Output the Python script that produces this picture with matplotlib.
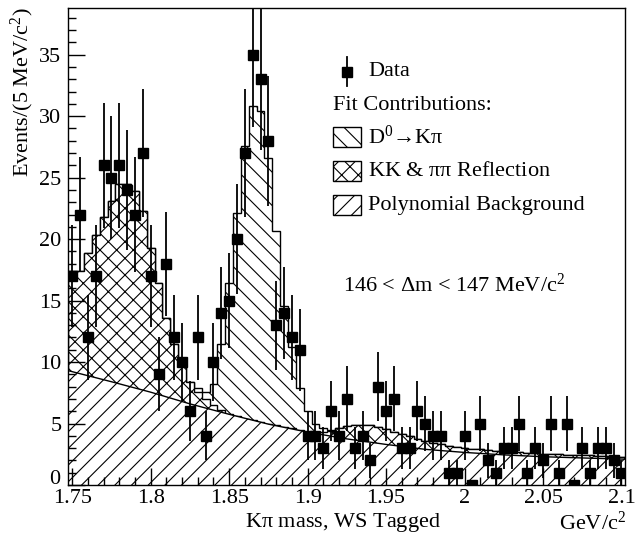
import matplotlib

matplotlib.use("Agg")
import matplotlib.pyplot as plt  # noqa: E402
import numpy as np  # noqa: E402
from matplotlib.patches import Rectangle  # noqa: E402
from matplotlib.lines import Line2D  # noqa: E402
from matplotlib.transforms import ScaledTranslation  # noqa: E402

# ---- data (71 bins of 5 MeV) ----
bin_lo = 1.7475
bin_width = 0.005
n_bins = 71

data_counts = [
    17, 22, 12, 17, 26, 25, 26, 24, 22, 27,
    17, 9, 18, 12, 10, 6, 12, 4, 10, 14,
    15, 20, 27, 35, 33, 28, 13, 14, 12, 11,
    4, 4, 3, 6, 4, 7, 3, 4, 2, 8,
    6, 7, 3, 3, 6, 5, 4, 4, 1, 1,
    4, 0, 5, 2, 1, 3, 3, 5, 1, 3,
    2, 5, 1, 5, 0, 3, 1, 3, 3, 2, 1,
]

# stacked fit: background + reflection (top of the cross-hatched part)
refl_top = [
    17.4, 17.4, 18.9, 20.3, 21.8, 23.1, 24.5, 24.5, 23.9, 22.3,
    19.3, 16.4, 13.6, 11.5, 9.9, 8.4, 7.6, 7.0, 6.5, 6.1,
    5.8, 5.6, 5.4, 5.25, 5.1, 4.95, 4.85, 4.7, 4.6, 4.5,
    4.35, 4.3, 4.3, 4.4, 4.6, 4.8, 4.9, 4.9, 4.85, 4.7,
    4.55, 4.35, 4.15, 3.95, 3.75, 3.6, 3.45, 3.3, 3.2, 3.1,
    3.0, 2.95, 2.9, 2.85, 2.8, 2.75, 2.7, 2.65, 2.6, 2.6,
    2.55, 2.5, 2.5, 2.45, 2.45, 2.4, 2.4, 2.35, 2.35, 2.3, 2.3,
]

# stacked fit: background + reflection + D0 -> K pi (full stack)
total_top = [
    17.4, 17.4, 18.9, 20.3, 21.8, 23.1, 24.5, 24.5, 23.9, 22.3,
    19.3, 16.4, 13.6, 11.5, 9.9, 8.4, 7.9, 7.6, 8.2, 11.5,
    16.4, 22.1, 27.6, 30.8, 30.4, 26.6, 20.7, 14.6, 11.2, 7.9,
    6.0, 5.0, 4.6, 4.5, 4.6, 4.8, 4.9, 4.9, 4.85, 4.7,
    4.55, 4.35, 4.15, 3.95, 3.75, 3.6, 3.45, 3.3, 3.2, 3.1,
    3.0, 2.95, 2.9, 2.85, 2.8, 2.75, 2.7, 2.65, 2.6, 2.6,
    2.55, 2.5, 2.5, 2.45, 2.45, 2.4, 2.4, 2.35, 2.35, 2.3, 2.3,
]

# smooth polynomial background, sampled along the curve
bg_mass = [1.7475, 1.775, 1.80, 1.825, 1.85, 1.875, 1.90, 1.925,
           1.95, 1.975, 2.00, 2.025, 2.05, 2.075, 2.1025]
bg_level = [9.3, 8.4, 7.55, 6.6, 5.75, 4.95, 4.3, 3.75,
            3.3, 2.9, 2.65, 2.45, 2.3, 2.2, 2.1]

x_ticks = [1.75, 1.80, 1.85, 1.90, 1.95, 2.00, 2.05, 2.10]
x_tick_labels = ["1.75", "1.8", "1.85", "1.9", "1.95", "2", "2.05", "2.1"]
y_ticks = [0, 5, 10, 15, 20, 25, 30, 35]

legend_labels = [
    r"D$^\mathrm{0}$→K$\pi$",
    r"KK & $\pi\pi$ Reflection",
    "Polynomial Background",
]

# ---- style ----
W, H = 636, 539
SERIF = "Liberation Serif"
plt.rcParams["font.family"] = [SERIF, "DejaVu Serif"]
plt.rcParams["mathtext.fontset"] = "custom"
plt.rcParams["mathtext.rm"] = SERIF
plt.rcParams["mathtext.it"] = SERIF
plt.rcParams["mathtext.cal"] = SERIF
plt.rcParams["hatch.linewidth"] = 0.8
plt.rcParams["hatch.color"] = "black"

FS = 16

fig = plt.figure(figsize=(W / 100, H / 100), dpi=100)
ax = fig.add_axes([68.3 / W, 1 - 485 / H, (625.4 - 68.3) / W, (485 - 8) / H])

edges = bin_lo + bin_width * np.arange(n_bins + 1)
centers = 0.5 * (edges[:-1] + edges[1:])
counts = np.asarray(data_counts, dtype=float)

# stacked contributions, drawn from the top of the stack downwards
ax.stairs(total_top, edges, fill=True, facecolor="white", edgecolor="black",
          hatch="\\\\", linewidth=0, zorder=1)
ax.stairs(total_top, edges, color="black", linewidth=1.0, zorder=1.1)
ax.stairs(refl_top, edges, fill=True, facecolor="white", edgecolor="black",
          hatch="xx", linewidth=0, zorder=1.2)
ax.stairs(refl_top, edges, color="black", linewidth=1.0, zorder=1.3)
ax.fill_between(bg_mass, 0, bg_level, facecolor="white", edgecolor="black",
                hatch="//", linewidth=0, zorder=1.4)
ax.plot(bg_mass, bg_level, color="black", linewidth=1.0, zorder=1.5)

# data with Poisson errors
has = counts > 0
ax.errorbar(centers[has], counts[has], yerr=np.sqrt(counts[has]), fmt="none",
            ecolor="black", elinewidth=1.3, capsize=0, zorder=3)
ax.plot(centers, counts, "s", color="black", markersize=7, zorder=4)

ax.set_xlim(edges[0], edges[-1])
ax.set_ylim(0, 38.8)
ax.set_xticks(x_ticks)
ax.set_xticklabels(x_tick_labels)
ax.set_xticks(np.arange(1.75, 2.1001, 0.01), minor=True)
ax.set_yticks(y_ticks)
ax.set_yticks(np.arange(0, 39, 1), minor=True)
ax.tick_params(which="both", direction="in", top=False, right=False,
               labelsize=FS, width=1.0)
ax.tick_params(axis="x", which="both", pad=3)
ax.tick_params(axis="y", which="both", pad=5)
ax.tick_params(which="major", length=12)
ax.tick_params(which="minor", length=6)
for sp in ax.spines.values():
    sp.set_linewidth(1.0)

# lift the "0" label a little so it clears the first x label (ROOT does too)
zero_lab = ax.get_yticklabels()[0]
zero_lab.set_transform(zero_lab.get_transform()
                       + ScaledTranslation(-1 / 72, 6 / 72, fig.dpi_scale_trans))


def fpos(x, y):
    return x / W, 1 - y / H


# axis titles
fig.text(*fpos(22, 7), r"Events/(5 MeV/c$^\mathrm{2}$)", rotation=90,
         ha="center", va="top", fontsize=FS)
fig.text(*fpos(343, 523), r"K$\pi$ mass, WS Tagged", ha="center",
         va="center", fontsize=FS)
fig.text(*fpos(626, 523), r"GeV/c$^\mathrm{2}$", ha="right", va="center",
         fontsize=FS)

# legend
fig.add_artist(Line2D([347 / W, 347 / W], [1 - 57 / H, 1 - 86 / H],
                      color="black", linewidth=1.3))
fig.add_artist(Line2D([347 / W], [1 - 72 / H], marker="s", color="black",
                      markersize=7))
fig.text(*fpos(368, 72), "Data", ha="left", va="center", fontsize=FS)
fig.text(*fpos(333, 105), "Fit Contributions:", ha="left", va="center",
         fontsize=FS)

hatches = ["\\\\", "xx", "//"]
box_y = [137, 171, 205]
for lab, hat, yc in zip(legend_labels, hatches, box_y):
    x0, y0 = fpos(333, yc + 10)
    fig.add_artist(Rectangle((x0, y0), 28 / W, 20 / H, transform=fig.transFigure,
                             facecolor="white", edgecolor="black", hatch=hat,
                             linewidth=1.0))
    fig.text(*fpos(368, yc), lab, ha="left", va="center", fontsize=FS)

fig.text(*fpos(343, 285), r"146 < $\Delta$m < 147 MeV/c$^\mathrm{2}$",
         ha="left", va="center", fontsize=FS)

fig.savefig("out.png", dpi=100)
